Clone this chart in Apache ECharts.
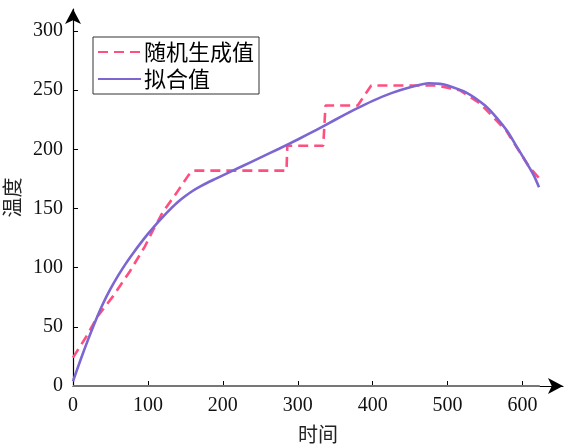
<!DOCTYPE html>
<html>
<head>
<meta charset="utf-8">
<script src="https://cdn.jsdelivr.net/npm/echarts@6/dist/echarts.min.js"></script>
<style>html,body{margin:0;padding:0;background:#fff;}#c{width:573px;height:447px;}</style>
</head>
<body>
<div id="c"></div>
<script>
const xTicks = [0, 100, 200, 300, 400, 500, 600];
const yTicks = [0, 50, 100, 150, 200, 250, 300];
const seriesNames = ['随机生成值', '拟合值'];
const xName = '时间';
const yName = '温度';

const randX = [0, 17, 33, 53, 76, 96, 107, 120, 138, 154, 160, 285, 286, 334, 337, 380, 398, 485, 516, 543, 578, 609, 623];
const randY = [24, 41, 59, 75.5, 97, 118, 132, 147, 163, 178, 182, 182, 203, 203, 237, 237, 254, 254, 250, 239, 216, 185, 175];

const fitX = [0, 10, 20, 30, 40, 50, 60, 70, 80, 90, 100, 110, 120, 130, 140, 150, 160, 170, 180, 190, 200, 225, 250, 275, 300, 325, 350, 375, 400, 425, 450, 475, 490, 500, 525, 550, 565, 580, 592, 605, 615, 622];
const fitY = [4, 22, 39, 55, 69.5, 82, 93, 103, 112, 120.5, 128.5, 136, 143, 149.5, 155.5, 160.5, 165, 168.7, 172, 175, 178, 185.5, 193, 200.5, 208.3, 216.5, 225, 233.3, 241, 247.5, 252.5, 255.8, 255.3, 254, 248, 237, 227, 215, 202.5, 189, 178, 168];

const baseX = [0, 623];
const baseY = [0, 0];

const zip = (a, b) => a.map((v, i) => [v, b[i]]);

const chart = echarts.init(document.getElementById('c'));
const serif = 'Liberation Serif';
const cjk = 'Noto Sans CJK SC';
chart.setOption({
  animation: false,
  backgroundColor: '#fff',
  grid: { left: 73, right: 10, top: 9, bottom: 61, containLabel: false, outerBoundsMode: 'none' },
  legend: {
    data: seriesNames,
    orient: 'vertical',
    left: 93, top: 37,
    padding: [4, 5, 4, 4],
    itemWidth: 43, itemHeight: 14, itemGap: 5,
    borderColor: '#333', borderWidth: 1,
    itemStyle: { opacity: 0 },
    textStyle: { fontFamily: cjk, fontSize: 22, color: '#000', padding: [0, 0, 0, -2] }
  },
  xAxis: {
    type: 'value', min: 0, max: 654,
    name: xName, nameLocation: 'middle', nameGap: 38,
    nameTextStyle: { fontFamily: cjk, fontSize: 20, color: '#222' },
    axisLine: { show: true, lineStyle: { color: '#000', width: 1.2 }, symbol: ['none', 'arrow'], symbolSize: [12, 15] },
    axisTick: { show: true, inside: true, length: 5, lineStyle: { color: '#000' }, customValues: xTicks },
    axisLabel: { fontFamily: serif, fontSize: 20, color: '#111', margin: 10, customValues: xTicks },
    splitLine: { show: false }
  },
  yAxis: {
    type: 'value', min: 0, max: 318.6,
    name: yName, nameLocation: 'middle', nameGap: 50, nameRotate: 90,
    nameTextStyle: { fontFamily: cjk, fontSize: 20, color: '#222' },
    axisLine: { show: true, lineStyle: { color: '#000', width: 1.2 }, symbol: ['none', 'arrow'], symbolSize: [12, 15] },
    axisTick: { show: true, inside: true, length: 5, lineStyle: { color: '#000' }, customValues: yTicks },
    axisLabel: { fontFamily: serif, fontSize: 20, color: '#111', margin: 10, customValues: yTicks },
    splitLine: { show: false }
  },
  series: [
    {
      name: '基线', type: 'line', data: zip(baseX, baseY), symbol: 'none', silent: true, z: 1,
      lineStyle: { color: '#777', width: 2.2 }
    },
    {
      name: seriesNames[0], type: 'line', data: zip(randX, randY), symbol: 'none', z: 2,
      lineStyle: { color: '#FF4F80', width: 2.6, type: [10, 6] }, itemStyle: { color: '#FF4F80' }
    },
    {
      name: seriesNames[1], type: 'line', data: zip(fitX, fitY), symbol: 'none', smooth: 0.2, z: 3,
      lineStyle: { color: '#7B66D2', width: 2.6 }, itemStyle: { color: '#7B66D2' }
    }
  ]
});
</script>
</body>
</html>
